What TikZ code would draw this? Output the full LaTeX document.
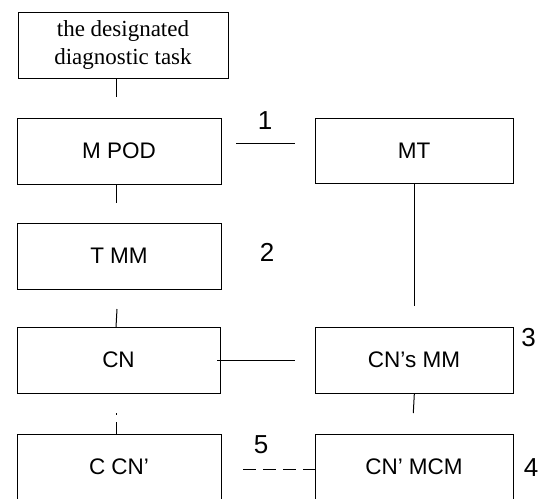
\documentclass[tikz,border=0pt]{standalone}
\usepackage{fontspec}
\setmainfont{Liberation Sans}
\newfontfamily\seriffont{Liberation Serif}
\begin{document}
\begin{tikzpicture}[x=1pt,y=-1pt,
  box/.style={draw,line width=1pt,inner sep=0pt,outer sep=0pt,minimum height=66pt,font=\fontsize{22.5}{27}\selectfont},
  lbox/.style={box,minimum width=204pt},
  rbox/.style={box,minimum width=198pt},
  lab/.style={inner sep=0pt,font=\fontsize{26}{30}\selectfont},
  conn/.style={line width=1pt}]
\useasboundingbox (0,0) rectangle (543,498);
% boxes
\node[box,minimum width=210pt,align=center,font=\seriffont\fontsize{23}{28}\selectfont] (top) at (123,45) {the designated\\diagnostic task};
\node[lbox] (mpod) at (119,151) {M POD};
\node[lbox] (tmm) at (119,256) {T MM};
\node[box,minimum width=203pt] (cn) at (118.5,360) {CN};
\node[lbox] (ccn) at (119,467) {C CN’};
\node[rbox,minimum height=65pt] (mt) at (414,150.5) {MT};
\node[rbox] (cnsmm) at (414,360) {CN’s MM};
\node[rbox] (cnmcm) at (414,467) {CN’ MCM};
% labels
\node[lab] (l1) at (265,120.5) {1};
\node[lab] (l2) at (267,252.5) {2};
\node[lab] (l3) at (528.5,337.5) {3};
\node[lab] (l5) at (261,444.5) {5};
\node[lab] (l4) at (531,468) {4};
% connector ends
\coordinate (c1) at (116,97);
\coordinate (c2) at (116,203);
\coordinate (c3a) at (117,309);
\coordinate (c3b) at (116,327);
\coordinate (d1) at (116,413.3);
\coordinate (d2) at (116,414.7);
\coordinate (c4) at (116,422);
\coordinate (h1a) at (236,143);
\coordinate (h1b) at (295,143);
\coordinate (v1) at (414,306);
\coordinate (h2a) at (217,360);
\coordinate (h2b) at (295,360);
\coordinate (v2a) at (414.3,394);
\coordinate (v2b) at (413.3,413);
\coordinate (h3) at (243,469);
% connectors
\draw[conn] (c1 |- top.south) -- (c1);
\draw[conn] (c2 |- mpod.south) -- (c2);
\draw[conn] (c3a) -- (c3b);
\draw[conn] (d1) -- (d2);
\draw[conn] (c4) -- (c4 |- ccn.north);
\draw[conn] (h1a) -- (h1b);
\draw[conn] (mt.south) -- (v1);
\draw[conn] (h2a) -- (h2b);
\draw[conn] (v2a) -- (v2b);
\draw[conn,dash pattern=on 12.5pt off 7.5pt] (h3) -- (h3 -| cnmcm.west);
\end{tikzpicture}
\end{document}
